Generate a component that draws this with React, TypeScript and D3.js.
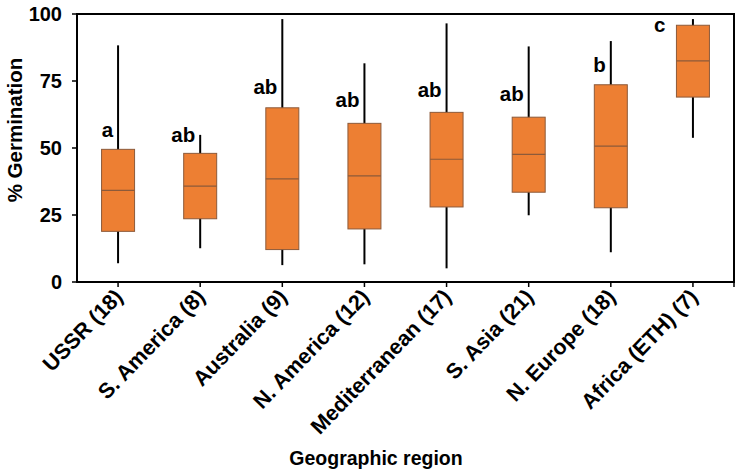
import React from "react";
import * as d3 from "d3";

const regions = [
  "USSR (18)",
  "S. America (8)",
  "Australia (9)",
  "N. America (12)",
  "Mediterranean (17)",
  "S. Asia (21)",
  "N. Europe (18)",
  "Africa (ETH) (7)",
];
const whiskerLow = [7.0, 12.6, 6.3, 6.6, 5.1, 24.9, 11.1, 53.8];
const quartile1 = [18.9, 23.6, 12.1, 19.8, 28.0, 33.5, 27.7, 69.0];
const medians = [34.2, 35.8, 38.5, 39.6, 45.8, 47.6, 50.7, 82.5];
const quartile3 = [49.5, 48.0, 65.0, 59.2, 63.3, 61.5, 73.6, 95.8];
const whiskerHigh = [88.3, 54.9, 98.1, 81.6, 96.5, 87.9, 89.9, 98.1];
const groupLetters = ["a", "ab", "ab", "ab", "ab", "ab", "b", "c"];
const letterLevel = [54.2, 52.4, 70.1, 65.4, 69.1, 67.5, 78.4, 93.4];
const yTicks = [0, 25, 50, 75, 100];

const W = 739;
const H = 475;
const M = { left: 77, right: 734, top: 14, bottom: 282 };
const FONT = "'Liberation Sans', Arial, Helvetica, sans-serif";
const FILL = "#ED7F33";
const EDGE = "#8C5A3A";

export default function App() {
  const x = d3.scaleBand<string>().domain(regions).range([M.left, M.right]).padding(0);
  const y = d3.scaleLinear().domain([0, 100]).range([M.bottom, M.top]);
  const boxW = 33;

  return (
    <svg
      width={W}
      height={H}
      style={{ position: "absolute", left: 0, top: 0, background: "#fff" }}
      fontFamily={FONT}
      fontWeight="bold"
    >
      {/* boxes */}
      {regions.map((r, i) => {
        const cx = (x(r) ?? 0) + x.bandwidth() / 2;
        const inside = letterLevel[i] <= quartile3[i] && letterLevel[i] >= quartile1[i];
        const lx = inside ? cx - boxW / 2 - 11 : cx - 5;
        return (
          <g key={r}>
            <line x1={cx} x2={cx} y1={y(whiskerLow[i])} y2={y(whiskerHigh[i])} stroke="#000" strokeWidth={2} />
            <rect
              x={cx - boxW / 2}
              y={y(quartile3[i])}
              width={boxW}
              height={y(quartile1[i]) - y(quartile3[i])}
              fill={FILL}
              stroke={EDGE}
              strokeWidth={1}
            />
            <line x1={cx - boxW / 2} x2={cx + boxW / 2} y1={y(medians[i])} y2={y(medians[i])} stroke={EDGE} strokeWidth={1.2} />
            <text x={lx} y={y(letterLevel[i])} textAnchor="end" fontSize={20.5} fill="#000">
              {groupLetters[i]}
            </text>
          </g>
        );
      })}

      {/* frame */}
      <rect x={M.left} y={M.top} width={M.right - M.left} height={M.bottom - M.top} fill="none" stroke="#000" strokeWidth={2} />

      {/* y axis ticks */}
      {yTicks.map((t) => (
        <g key={t}>
          <line x1={M.left - 5} x2={M.left} y1={y(t)} y2={y(t)} stroke="#000" strokeWidth={1.5} />
          <text x={62} y={y(t)} dy="0.36em" textAnchor="end" fontSize={20} fill="#000">
            {t}
          </text>
        </g>
      ))}

      {/* x axis ticks and labels */}
      {regions.map((r) => {
        const cx = (x(r) ?? 0) + x.bandwidth() / 2;
        return (
          <g key={"t" + r}>
            <line x1={cx} x2={cx} y1={M.bottom} y2={M.bottom + 5} stroke="#000" strokeWidth={1.5} />
            <text transform={`translate(${cx + 6},${M.bottom + 16}) rotate(-46)`} textAnchor="end" fontSize={21.5} fill="#000">
              {r}
            </text>
          </g>
        );
      })}
      <line x1={M.right} x2={M.right} y1={M.bottom} y2={M.bottom + 5} stroke="#000" strokeWidth={1.5} />

      {/* axis titles */}
      <text transform={`translate(22,130) rotate(-90)`} textAnchor="middle" fontSize={20.5} fill="#000">
        % Germination
      </text>
      <text x={376} y={465} textAnchor="middle" fontSize={19.5} fill="#000">
        Geographic region
      </text>
    </svg>
  );
}
